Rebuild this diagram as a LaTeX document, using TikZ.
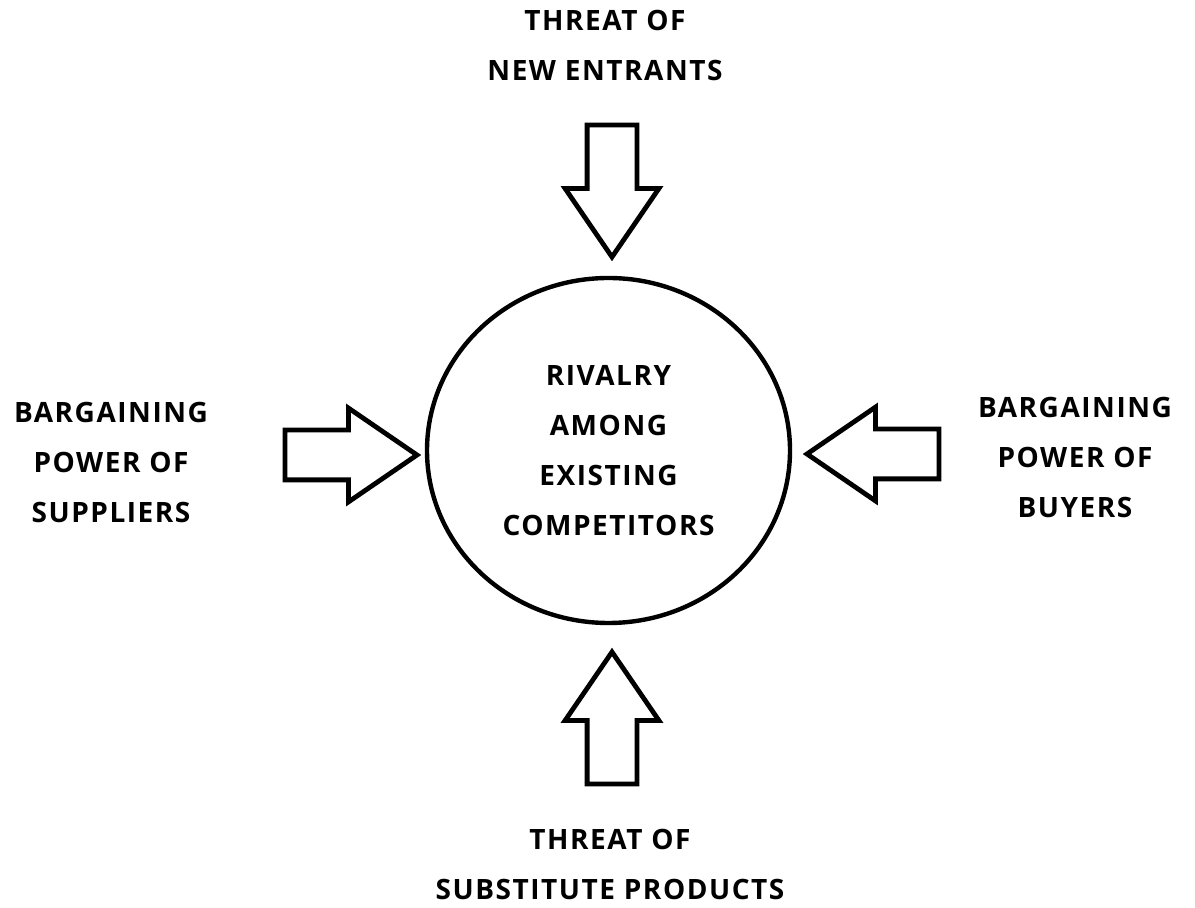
\documentclass[tikz,border=0pt]{standalone}
\usepackage{fontspec}
\setmainfont{Open Sans}[LetterSpace=5.5]
\usetikzlibrary{shapes.geometric,shapes.arrows}

\tikzset{
  label/.style={font=\fontsize{14}{25}\selectfont\bfseries, align=center},
  fatarrow/.style={draw, line width=2.4pt, single arrow, text height=0pt, text depth=0pt,
    inner sep=11.25pt, outer sep=0pt, minimum height=66pt,
    single arrow head extend=11pt, single arrow tip angle=68.8, anchor=tip},
}

\begin{document}
\begin{tikzpicture}[x=0.5pt,y=-0.5pt]
 \useasboundingbox (0,0) rectangle (1195,908);
 % the industry in the middle
 \node[label, draw, ellipse, line width=2.2pt, inner sep=0pt,
   minimum width=181.5pt, minimum height=172.5pt] (rivalry) at (608.5,450.5)
   {RIVALRY\\AMONG\\EXISTING\\COMPETITORS};
 % the four outside forces
 \node[label] (entrants) at (605,45) {THREAT OF\\NEW ENTRANTS};
 \node[label] (substitutes) at (610,864) {THREAT OF\\SUBSTITUTE PRODUCTS};
 \node[label] (suppliers) at (111,463) {BARGAINING\\POWER OF\\SUPPLIERS};
 \node[label] (buyers) at (1075,458) {BARGAINING\\POWER OF\\BUYERS};
 % block arrows pointing in
 \node[fatarrow, shape border rotate=270] (entarrow) at (612,257) {};
 \node[fatarrow, shape border rotate=90] (subarrow) at (612,652) {};
 \node[fatarrow, shape border rotate=0] (suparrow) at (417,455) {};
 \node[fatarrow, shape border rotate=180] (buyarrow) at (807,454) {};
\end{tikzpicture}
\end{document}
